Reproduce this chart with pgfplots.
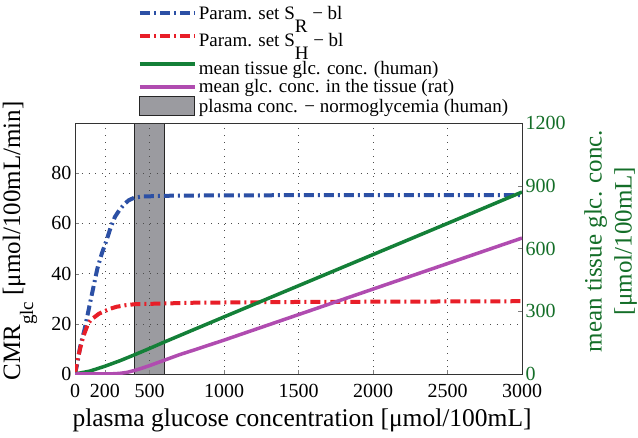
\documentclass[border=0pt]{standalone}
\usepackage{fontspec}
\setmainfont{Liberation Serif}
\usepackage{pgfplots}
\pgfplotsset{compat=1.18}
\definecolor{cblue}{RGB}{44,80,165}
\definecolor{cred}{RGB}{232,30,40}
\definecolor{cgreen}{RGB}{20,128,56}
\definecolor{cpurple}{RGB}{176,76,176}
\definecolor{cband}{RGB}{155,155,160}
\definecolor{cgtext}{RGB}{20,110,40}
\newcommand{\lsub}[1]{\raisebox{-13pt}{#1}}
\pgfplotsset{
  linelegend/.style={legend image code/.code={\draw[##1] (0pt,0pt) -- (55pt,0pt);}},
  bandlegend/.style={legend image code/.code={\draw[##1] (0pt,-9.5pt) rectangle (55pt,9.5pt);}},
}
\begin{document}
\begin{tikzpicture}
\begin{axis}[
  name=main,
  set layers,
  scale only axis, width=447pt, height=251pt,
  xmin=0, xmax=3000, ymin=0, ymax=100,
  xtick={0,200,500,1000,1500,2000,2500,3000},
  xticklabels={0,200,500,1000,1500,2000,2500,3000},
  ytick={0,20,40,60,80},
  yticklabels={0,20,40,60,80},
  xtick pos=bottom, ytick pos=left,
  tick align=inside, major tick length=4pt,
  tick label style={font=\fontsize{20}{20}\selectfont},
  xticklabel style={yshift=-7pt},
  grid=major,
  major grid style={black!70, line width=0.6pt, dash pattern=on 0.8pt off 6pt},
  axis line style={black!80, line width=0.8pt},
  xlabel={plasma glucose concentration [μmol/100mL]},
  xlabel style={font=\fontsize{25.5}{25.5}\selectfont, at={(axis description cs:0.508,-0.183)}, anchor=center},
  ylabel={CMR\raisebox{-13pt}{\fontsize{19}{19}\selectfont glc} [μmol/100mL/min]},
  ylabel style={font=\fontsize{25}{25}\selectfont, at={(axis description cs:-0.123,0.53)}, anchor=base},
  linelegend,
  legend style={at={(axis description cs:0.14,1.475)}, anchor=north west, draw=none, fill=none,
    font=\fontsize{19}{21}\selectfont, inner sep=0pt, row sep=0pt,
    /tikz/every even column/.append style={column sep=7pt}},
  legend cell align=left,
]
\addplot[fill=cband, draw=black!85, line width=0.8pt, on layer=axis background, forget plot]
  coordinates {(400,0)(400,100)(600,100)(600,0)} \closedcycle;
\addplot[cblue, line width=4pt, dash pattern=on 10pt off 4pt on 2pt off 4pt]
  coordinates {(0,0)(15,4)(35,11)(65,18)(100,28)(125,35)(150,42)(180,48)(212,53.3)(240,58.5)(268,62.6)(300,65.5)(330,67.6)(360,69.2)(400,70.3)(450,70.7)(600,71)(1000,71.2)(3000,71.3)};
\addplot[cred, line width=4pt, dash pattern=on 10pt off 4pt on 2pt off 4pt]
  coordinates {(0,0)(10,3.5)(22,7)(40,11.5)(56,15)(75,18)(89,20.2)(110,21.8)(134,22.8)(160,24)(190,24.8)(230,25.9)(280,26.8)(340,27.4)(400,27.8)(600,28.1)(800,28.4)(1500,28.7)(3000,29)};
\addlegendimage{cgreen, line width=3.5pt}
\addlegendimage{cpurple, line width=3.5pt}
\addlegendimage{bandlegend, fill=cband, draw=black!85, line width=0.8pt}
\legend{Param. set S\lsub{R} − bl, \rule{0pt}{22pt}Param. set S\lsub{H} − bl, \rule{0pt}{22pt}mean tissue glc. conc. (human), mean glc. conc. in the tissue (rat), plasma conc. − normoglycemia (human)}
\end{axis}
\begin{axis}[
  set layers,
  scale only axis, width=447pt, height=251pt,
  xmin=0, xmax=3000, ymin=0, ymax=1200,
  axis x line=none, axis y line*=right,
  ytick={0,300,600,900,1200},
  yticklabels={0,300,600,900,1200},
  tick align=inside, major tick length=4pt,
  yticklabel style={font=\fontsize{20}{20}\selectfont, text=cgtext},
  axis line style={black!80, line width=0.8pt},
  ylabel={mean tissue glc. conc.\\{[μmol/100mL]}},
  ylabel style={font=\fontsize{25}{30}\selectfont, text=cgtext, align=center, at={(axis description cs:1.198,0.53)}, anchor=center},
]
\addplot[cgreen, line width=3.5pt]
  coordinates {(0,0)(100,14)(200,37)(300,63)(400,92)(500,122)(600,153)(800,213)(1000,273)(1500,422)(2000,571)(2500,720)(3000,870)};
\addplot[cpurple, line width=3.5pt]
  coordinates {(0,0)(200,0.5)(250,1)(300,3)(350,8)(400,17)(450,28)(500,40)(600,66)(700,92)(800,115)(1000,162)(1500,284)(2000,406)(2500,528)(3000,650)};
\end{axis}
\pgfresetboundingbox
\path[use as bounding box] ([shift={(-75pt,-63pt)}]main.south west) rectangle ([shift={(116pt,123pt)}]main.north east);
\end{tikzpicture}
\end{document}
